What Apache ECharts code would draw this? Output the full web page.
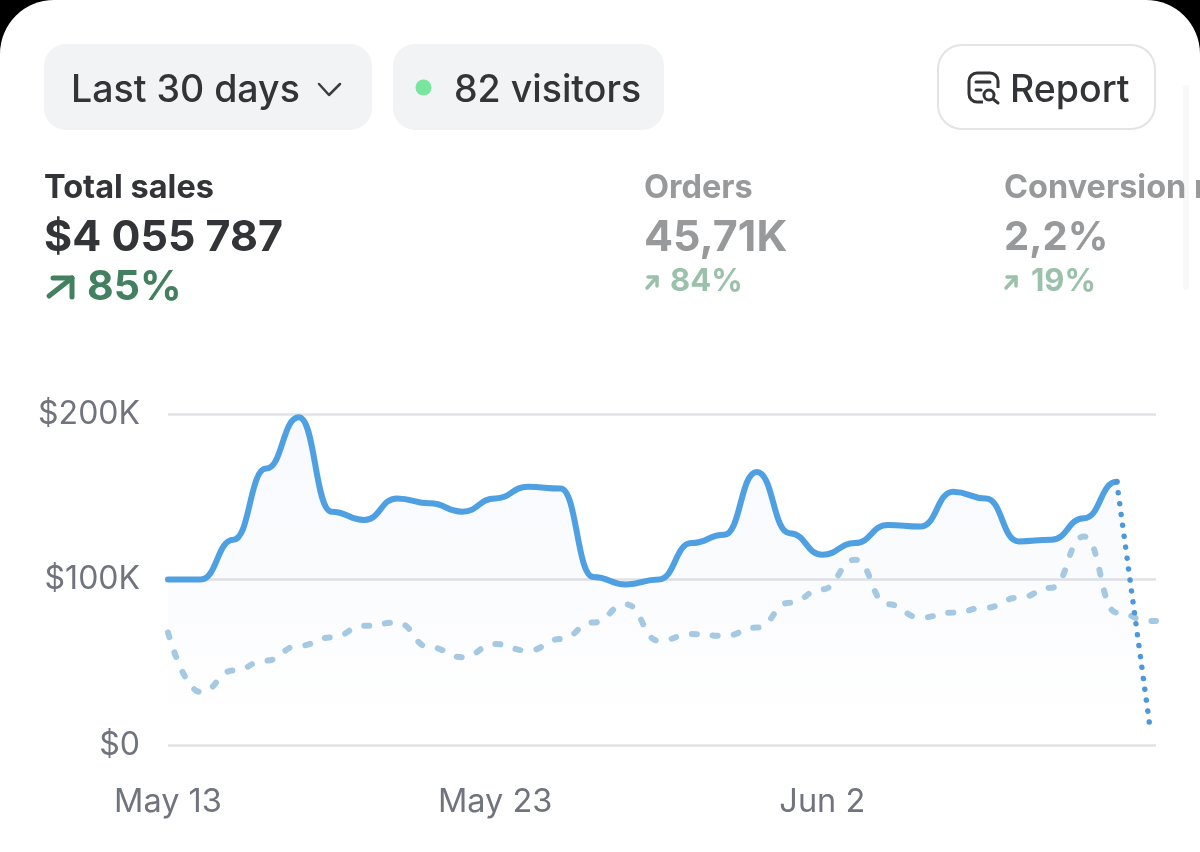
<!DOCTYPE html>
<html><head><meta charset="utf-8">
<style>html,body{margin:0;padding:0;background:#000}#c{width:1200px;height:852px}</style>
<script src="https://cdn.jsdelivr.net/npm/echarts@6/dist/echarts.min.js"></script>
</head><body><div id="c"></div>
<script>
const xTickLabels = ['May 13', 'May 23', 'Jun 2'];
const currentSales = [100,100,124,167,198,141,136,149,146,141,149,156,155,101.5,97,100,122,127,165,128,115,122,133,132,153,149,123,124,137,159];
const partialSales = [159,13];
const previousSales = [68,32,45,51,60,65,72,74,59,53,61,57,64,74,85,63,67,66,71,86,94,112,85,77,80,83,89,95,126,80,75,75];
const yTicks = [0,100,200];

const dayIdx = a => a.map((v,i)=>[i,v]);
const prevData = previousSales.map((v,i)=>[i===31?30.2:i,v]);
const joinDay = 29, joinEps = 0.001;
/* a tiny level step at the join day makes the curve arrive at and leave it level */
const currentData = [...dayIdx(currentSales), [joinDay+joinEps, partialSales[0]]];
const partialData = [[joinDay, partialSales[0]], [joinDay+joinEps, partialSales[0]], [joinDay+1, partialSales[1]]];
const F = 'Inter, "Noto Sans", sans-serif';
const DARK='#333438', GREY='#98999b', GREEN='#43805f', LGREEN='#9bc1ab';
const fill = {type:'linear',x:0,y:414,x2:0,y2:722,global:true,colorStops:[
  {offset:0,color:'rgba(60,120,200,0.06)'},{offset:.55,color:'rgba(60,100,190,0.03)'},{offset:1,color:'rgba(60,100,190,0)'}]};

function txt(x,y,text,size,color,weight){
  return {type:'text',z:5,silent:true,style:{x,y,text,fill:color,font:`${weight} ${size}px ${F}`,textVerticalAlign:'middle',textAlign:'left'}};
}
function arrow(x0,y0,x1,y1,head,color,w){
  return {type:'group',z:5,silent:true,children:[
    {type:'polyline',z:5,shape:{points:[[x0,y0],[x1,y1]]},style:{stroke:color,lineWidth:w,lineCap:'round',fill:null}},
    {type:'polyline',z:5,shape:{points:[[x1-head,y1],[x1,y1],[x1,y1+head]]},style:{stroke:color,lineWidth:w,lineCap:'round',lineJoin:'round',fill:null}}
  ]};
}
const chrome = [
  {type:'rect',z:-10,silent:true,shape:{x:0,y:0,width:1200,height:860,r:[54,54,0,0]},style:{fill:'#fff'}},
  {type:'rect',z:1,silent:true,shape:{x:44,y:44,width:328,height:86,r:22},style:{fill:'#f2f3f5'}},
  {type:'rect',z:1,silent:true,shape:{x:393,y:44,width:271,height:86,r:22},style:{fill:'#f2f3f5'}},
  {type:'rect',z:1,silent:true,shape:{x:938,y:45,width:217,height:84,r:24},style:{fill:'#fff',stroke:'#e4e4e6',lineWidth:2}},
  {type:'rect',z:1,silent:true,shape:{x:1183,y:85,width:6,height:205,r:3},style:{fill:'#f8f8f8'}},
  txt(71,91,'Last 30 days',37.5,DARK,500),
  {type:'polyline',z:5,silent:true,shape:{points:[[319,84],[329,95],[340,84]]},style:{stroke:'#3c3d42',lineWidth:2.5,fill:null,lineCap:'round',lineJoin:'round'}},
  {type:'circle',z:5,silent:true,shape:{cx:423.5,cy:87.5,r:8},style:{fill:'#7ae59f'}},
  txt(454,91,'82 visitors',37.5,DARK,500),
  {type:'rect',z:5,silent:true,shape:{x:969,y:73,width:29,height:29,r:8},style:{fill:null,stroke:DARK,lineWidth:3}},
  {type:'rect',z:6,silent:true,shape:{x:983,y:88,width:18,height:18},style:{fill:'#fff'}},
  {type:'line',z:7,silent:true,shape:{x1:976,y1:82,x2:990,y2:82},style:{stroke:DARK,lineWidth:3,lineCap:'round'}},
  {type:'line',z:7,silent:true,shape:{x1:976,y1:90,x2:981,y2:90},style:{stroke:DARK,lineWidth:3,lineCap:'round'}},
  {type:'circle',z:7,silent:true,shape:{cx:989,cy:95,r:5},style:{fill:'#fff',stroke:DARK,lineWidth:3}},
  {type:'line',z:7,silent:true,shape:{x1:993,y1:99,x2:998,y2:103},style:{stroke:DARK,lineWidth:3,lineCap:'round'}},
  txt(1010,91,'Report',37.5,DARK,500),
  txt(44,188,'Total sales',32.5,DARK,700),
  txt(44,238,'$4 055 787',43,DARK,700),
  arrow(49,296,72,278,19,GREEN,5),
  txt(87,288,'85%',41,GREEN,700),
  txt(644,188,'Orders',32.5,GREY,700),
  txt(644,238,'45,71K',43,GREY,700),
  arrow(647,288,657,277,9,LGREEN,3.5),
  txt(670,282,'84%',31,LGREEN,700),
  txt(1004,188,'Conversion rate',32.5,GREY,700),
  txt(1004,238,'2,2%',40,GREY,700),
  arrow(1006,288,1016,277,9,LGREEN,3.5),
  txt(1031,282,'19%',31,LGREEN,700)
];

const chart = echarts.init(document.getElementById('c'),null,{renderer:'canvas'});
const lineCommon = {type:'line',showSymbol:false,smooth:0.5,smoothMonotone:'x',silent:true,animation:false};
chart.setOption({
  animation:false,
  backgroundColor:'#000',
  graphic:chrome,
  grid:{left:168,top:414,width:988,height:331,containLabel:false},
  xAxis:{type:'value',min:0,max:30.2,interval:10,splitLine:{show:false},axisTick:{show:false},axisLine:{show:false},
    axisLabel:{margin:41,fontFamily:F,fontSize:32.5,color:'#71747f',showMaxLabel:false,
      formatter:v=>xTickLabels[v/10]||''}},
  yAxis:{type:'value',min:yTicks[0],max:yTicks[2],interval:100,axisTick:{show:false},axisLine:{show:false},
    splitLine:{lineStyle:{color:'#e2e2e6',width:2.5}},
    axisLabel:{margin:28,fontFamily:F,fontSize:32,color:'#71747f',padding:[3,0,0,0],formatter:v=>v?`$${v}K`:'$0'}},
  series:[
    {...lineCommon,name:'Current',z:4,data:currentData,
      lineStyle:{color:'#4fa0e2',width:6,cap:'round'},areaStyle:{color:fill}},
    {...lineCommon,name:'Previous',z:5,data:prevData,
      lineStyle:{color:'#a5c9e3',width:6,type:[5,16],cap:'round'}},
    {...lineCommon,name:'Partial',z:6,data:partialData,
      lineStyle:{color:'#4d98d8',width:5.5,type:[0.01,11],cap:'round'},areaStyle:{color:fill}}
  ]
});
</script></body></html>
